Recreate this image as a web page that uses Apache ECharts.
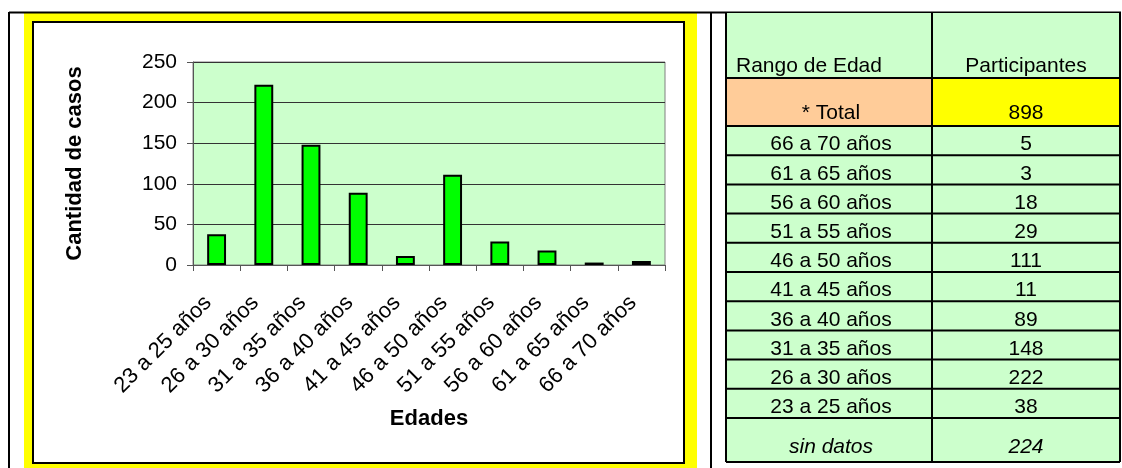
<!DOCTYPE html>
<html>
<head>
<meta charset="utf-8">
<title>Edades</title>
<script src="https://cdn.jsdelivr.net/npm/echarts@6/dist/echarts.min.js"></script>
<style>
  html, body { margin: 0; padding: 0; background: #fff; }
  #main { width: 1122px; height: 468px; }
</style>
</head>
<body>
<div id="main"></div>
<script>
// datos del grafico
var edades = ['23 a 25 años', '26 a 30 años', '31 a 35 años', '36 a 40 años', '41 a 45 años',
              '46 a 50 años', '51 a 55 años', '56 a 60 años', '61 a 65 años', '66 a 70 años'];
var casos = [38, 222, 148, 89, 11, 111, 29, 18, 3, 5];

// datos de la tabla
var encabezados = ['Rango de Edad', 'Participantes'];
var etiquetaTotal = '* Total';
var totalParticipantes = 898;
var rangosTabla = ['66 a 70 años', '61 a 65 años', '56 a 60 años', '51 a 55 años', '46 a 50 años',
                   '41 a 45 años', '36 a 40 años', '31 a 35 años', '26 a 30 años', '23 a 25 años'];
var participantesTabla = [5, 3, 18, 29, 111, 11, 89, 148, 222, 38];
var etiquetaSinDatos = 'sin datos';
var sinDatos = 224;

var FONT = '"Liberation Sans", Arial, sans-serif';
var chart = echarts.init(document.getElementById('main'));

// marco del grafico (celda con fondo amarillo)
var graficos = [
  { type: 'rect', z: -5, shape: { x: 24, y: 13, width: 673, height: 460 }, style: { fill: '#FFFF00' } },
  { type: 'rect', z: -4, shape: { x: 33, y: 22, width: 651, height: 441 },
    style: { fill: '#fff', stroke: '#000', lineWidth: 2 } },
  { type: 'line', shape: { x1: 9, y1: 12.5, x2: 1121, y2: 12.5 }, style: { stroke: '#000', lineWidth: 2 } },
  { type: 'line', shape: { x1: 9, y1: 12, x2: 9, y2: 468 }, style: { stroke: '#000', lineWidth: 2 } },
  { type: 'line', shape: { x1: 711, y1: 12, x2: 711, y2: 468 }, style: { stroke: '#000', lineWidth: 2 } }
];

// tabla
var tx0 = 726, tx1 = 932, tx2 = 1120;
var filas = [];
filas.push({ h: 65, a: encabezados[0], b: encabezados[1], fa: '#CCFFCC', fb: '#CCFFCC', izq: true, off: 12 });
filas.push({ h: 48, a: etiquetaTotal, b: String(totalParticipantes), fa: '#FFCC99', fb: '#FFFF00', off: 13 });
rangosTabla.forEach(function (r, i) {
  filas.push({ h: 29.2, a: r, b: String(participantesTabla[i]), fa: '#CCFFCC', fb: '#CCFFCC', off: 10.5 });
});
filas.push({ h: 44, a: etiquetaSinDatos, b: String(sinDatos), fa: '#CCFFCC', fb: '#CCFFCC', italic: true, off: 15 });

var y = 13;
filas.forEach(function (f) {
  var fuente = (f.italic ? 'italic ' : '') + '21px ' + FONT;
  graficos.push({ type: 'rect', shape: { x: tx0, y: y, width: tx1 - tx0, height: f.h }, style: { fill: f.fa } });
  graficos.push({ type: 'rect', shape: { x: tx1, y: y, width: tx2 - tx1, height: f.h }, style: { fill: f.fb } });
  var ty = y + f.h - f.off;
  graficos.push({ type: 'text', z: 5, style: {
    text: f.a, x: f.izq ? tx0 + 10 : (tx0 + tx1) / 2 + 2, y: ty, font: fuente, fill: '#000',
    align: f.izq ? 'left' : 'center', textAlign: f.izq ? 'left' : 'center',
    verticalAlign: 'middle', textVerticalAlign: 'middle' } });
  graficos.push({ type: 'text', z: 5, style: {
    text: f.b, x: (tx1 + tx2) / 2, y: ty, font: fuente, fill: '#000',
    align: 'center', textAlign: 'center', verticalAlign: 'middle', textVerticalAlign: 'middle' } });
  y += f.h;
  graficos.push({ type: 'line', z: 4, shape: { x1: tx0, y1: y, x2: tx2, y2: y }, style: { stroke: '#000', lineWidth: 2 } });
});
graficos.push({ type: 'line', z: 4, shape: { x1: tx0, y1: 13, x2: tx0, y2: y }, style: { stroke: '#000', lineWidth: 2 } });
graficos.push({ type: 'line', z: 4, shape: { x1: tx1, y1: 13, x2: tx1, y2: y }, style: { stroke: '#000', lineWidth: 2 } });
graficos.push({ type: 'line', z: 4, shape: { x1: tx2, y1: 13, x2: tx2, y2: y }, style: { stroke: '#000', lineWidth: 2 } });

chart.setOption({
  backgroundColor: '#fff',
  animation: false,
  textStyle: { fontFamily: FONT },
  graphic: graficos,
  grid: {
    left: 193, top: 62, width: 472, height: 203,
    show: true, backgroundColor: '#CCFFCC', borderColor: '#808080', borderWidth: 1
  },
  xAxis: {
    type: 'category',
    data: edades,
    name: 'Edades',
    nameLocation: 'middle',
    nameGap: 143,
    nameTextStyle: { fontSize: 22, fontWeight: 'bold', color: '#000', fontFamily: FONT },
    axisLine: { lineStyle: { color: '#555', width: 1 } },
    axisTick: { show: true, length: 6, lineStyle: { color: '#555' } },
    axisLabel: { rotate: 45, fontSize: 22, color: '#000', margin: 26, padding: [0, 12, 0, 0],
                 interval: 0, fontFamily: FONT },
    splitLine: { show: false }
  },
  yAxis: {
    type: 'value',
    min: 0, max: 250, interval: 50,
    name: 'Cantidad de casos',
    nameLocation: 'middle',
    nameGap: 107,
    nameTextStyle: { fontSize: 22, fontWeight: 'bold', color: '#000', fontFamily: FONT },
    axisLine: { show: true, lineStyle: { color: '#555', width: 1 } },
    axisTick: { show: true, length: 6, lineStyle: { color: '#555' } },
    axisLabel: { fontSize: 21, color: '#000', margin: 16, fontFamily: FONT },
    splitLine: { show: true, lineStyle: { color: '#333', width: 1 } }
  },
  series: [{
    name: 'Cantidad de casos',
    type: 'bar',
    data: casos,
    barWidth: '40%',
    itemStyle: { color: '#00FF00', borderColor: '#000', borderWidth: 2 }
  }]
});
</script>
</body>
</html>
